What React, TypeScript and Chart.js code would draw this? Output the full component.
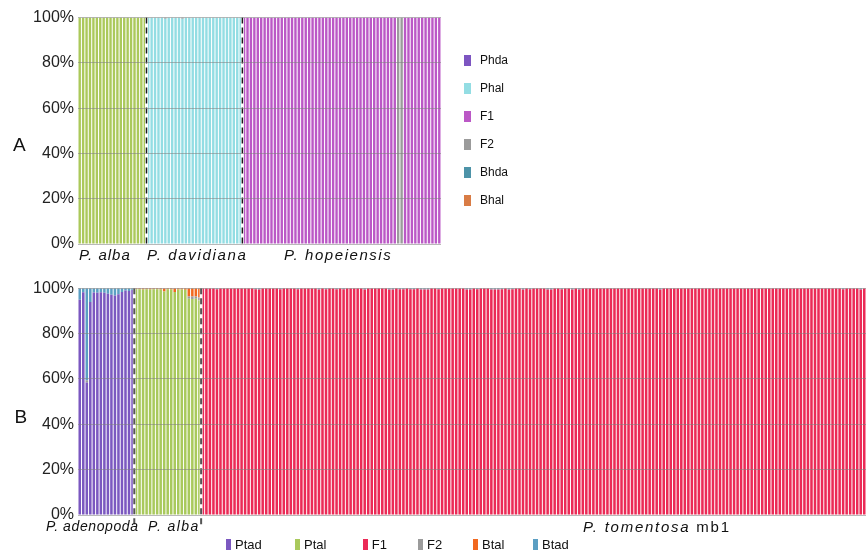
import React, { useEffect, useRef } from "react";
import { Chart, registerables } from "chart.js";
Chart.register(...registerables);

const FONT = '"Liberation Sans", Arial, Helvetica, sans-serif';

// ---------- shared ----------
const Y_TICKS = ["0%", "20%", "40%", "60%", "80%", "100%"];

// ---------- Panel A ----------
const A_GROUPS = ["P. alba", "P. davidiana", "P. hopeiensis"];
const A_GROUP_SIZES = [20, 28, 58];

const A_ALBA_PAL = [
  100, 100, 100, 100, 100, 100, 100, 100, 100, 100,
  100, 100, 100, 100, 100, 100, 100, 100, 100, 100,
];
const A_DAV_PHAL = [
  100, 100, 100, 100, 100, 99.4, 100, 100, 100, 100,
  99.4, 100, 100, 100, 100, 100, 100, 100, 100, 100,
  100, 100, 100, 100, 100, 100, 100, 100,
];
const A_DAV_F2 = [
  0, 0, 0, 0, 0, 0.6, 0, 0, 0, 0,
  0.6, 0, 0, 0, 0, 0, 0, 0, 0, 0,
  0, 0, 0, 0, 0, 0, 0, 0,
];
const A_HOP_F1 = [
  100, 100, 100, 100, 100, 100, 100, 100, 100, 100,
  100, 100, 100, 100, 100, 100, 100, 100, 100, 100,
  100, 100, 100, 100, 100, 100, 100, 100, 100, 100,
  100, 100, 100, 100, 100, 100, 100, 100, 100, 100,
  100, 100, 100, 100, 100, 0, 0, 100, 100, 100,
  100, 100, 100, 100, 100, 100, 100, 100,
];
const A_HOP_F2 = [
  0, 0, 0, 0, 0, 0, 0, 0, 0, 0,
  0, 0, 0, 0, 0, 0, 0, 0, 0, 0,
  0, 0, 0, 0, 0, 0, 0, 0, 0, 0,
  0, 0, 0, 0, 0, 0, 0, 0, 0, 0,
  0, 0, 0, 0, 0, 100, 100, 0, 0, 0,
  0, 0, 0, 0, 0, 0, 0, 0,
];

const A_SERIES = [
  { label: "Pal", color: "#abc95b", groups: [A_ALBA_PAL, null, null], legend: false },
  { label: "Phda", color: "#7d55c1", groups: [null, null, null], legend: true },
  { label: "Phal", color: "#93dde3", groups: [null, A_DAV_PHAL, null], legend: true },
  { label: "F1", color: "#bb58c6", groups: [null, null, A_HOP_F1], legend: true },
  { label: "F2", color: "#9b9b9b", groups: [null, A_DAV_F2, A_HOP_F2], legend: true },
  { label: "Bhda", color: "#4d93a8", groups: [null, null, null], legend: true },
  { label: "Bhal", color: "#d97c45", groups: [null, null, null], legend: true },
];

// ---------- Panel B ----------
const B_GROUPS = ["P. adenopoda", "P. alba", "P. tomentosa mb1"];
const B_GROUP_SIZES = [16, 19, 189];

const B_ADEN_PTAD = [94.9, 98.3, 58.4, 94, 98.2, 98, 98.3, 98, 97.6, 97.2, 96.8, 97.4, 98.4, 99, 98.8, 99.2];
const B_ADEN_F2 = [0, 0, 1, 0, 0, 0, 0, 0, 0, 0, 0, 0, 0, 0, 0, 0];
const B_ADEN_BTAD = [5.1, 1.7, 40.6, 6, 1.8, 2, 1.7, 2, 2.4, 2.8, 3.2, 2.6, 1.6, 1, 1.2, 0.8];

const B_ALBA_PTAL = [99.6, 99.6, 99.5, 99.6, 99.5, 99.6, 99.6, 99.5, 98.6, 99.6, 99.5, 98.4, 99.5, 99.5, 99.4, 95.4, 95.3, 95.4, 94.6];
const B_ALBA_F2 = [0, 0, 0, 0, 0, 0, 0, 0, 0, 0, 0, 0, 0, 0, 0, 1.0, 1.1, 1.0, 1.3];
const B_ALBA_BTAL = [0.4, 0.4, 0.5, 0.4, 0.5, 0.4, 0.4, 0.5, 1.4, 0.4, 0.5, 1.6, 0.5, 0.5, 0.6, 3.6, 3.6, 3.6, 4.1];

const B_TOM_F1 = [
  100, 100, 100, 100, 99.6, 100, 100, 100, 100,
  100, 100, 100, 100, 100, 100, 99.6, 99.5, 100, 100,
  100, 100, 100, 99.6, 100, 100, 100, 100, 99.6, 100,
  100, 100, 100, 100, 99.5, 100, 99.6, 100, 100, 99.6,
  100, 99.6, 100, 100, 100, 100, 100, 99.5, 100, 100,
  100, 100, 100, 100, 99.5, 99.5, 100, 99.6, 99.6, 100,
  99.6, 99.6, 100, 99.5, 99.5, 99.5, 100, 100, 99.6, 100,
  100, 100, 100, 100, 100, 100, 99.5, 99.5, 100, 99.6,
  100, 100, 100, 99.5, 99.5, 99.5, 99.6, 100, 99.5, 99.6,
  100, 100, 99.5, 100, 99.6, 100, 100, 100, 100, 99.5,
  99.5, 100, 100, 99.6, 100, 100, 99.5, 100, 99.5, 100,
  100, 100, 100, 100, 100, 100, 100, 100, 100, 100,
  100, 100, 100, 100, 100, 100, 100, 100, 100, 100,
  100, 99.5, 100, 100, 100, 100, 100, 100, 100, 100,
  100, 100, 100, 100, 100, 100, 100, 100, 100, 100,
  100, 100, 100, 100, 100, 100, 100, 100, 100, 100,
  100, 100, 100, 100, 100, 100, 100, 100, 100, 100,
  100, 100, 100, 100, 100, 100, 100, 100, 100, 100,
  100, 100, 100, 99.6, 100, 100, 100, 100, 99.5, 100,
];
const B_TOM_BTAD = [
  0, 0, 0, 0, 0.4, 0, 0, 0, 0,
  0, 0, 0, 0, 0, 0, 0.4, 0.5, 0, 0,
  0, 0, 0, 0.4, 0, 0, 0, 0, 0.4, 0,
  0, 0, 0, 0, 0.5, 0, 0.4, 0, 0, 0.4,
  0, 0.4, 0, 0, 0, 0, 0, 0.5, 0, 0,
  0, 0, 0, 0, 0.5, 0.5, 0, 0.4, 0.4, 0,
  0.4, 0.4, 0, 0.5, 0.5, 0.5, 0, 0, 0.4, 0,
  0, 0, 0, 0, 0, 0, 0.5, 0.5, 0, 0.4,
  0, 0, 0, 0.5, 0.5, 0.5, 0.4, 0, 0.5, 0.4,
  0, 0, 0.5, 0, 0.4, 0, 0, 0, 0, 0.5,
  0.5, 0, 0, 0.4, 0, 0, 0.5, 0, 0.5, 0,
  0, 0, 0, 0, 0, 0, 0, 0, 0, 0,
  0, 0, 0, 0, 0, 0, 0, 0, 0, 0,
  0, 0.5, 0, 0, 0, 0, 0, 0, 0, 0,
  0, 0, 0, 0, 0, 0, 0, 0, 0, 0,
  0, 0, 0, 0, 0, 0, 0, 0, 0, 0,
  0, 0, 0, 0, 0, 0, 0, 0, 0, 0,
  0, 0, 0, 0, 0, 0, 0, 0, 0, 0,
  0, 0, 0, 0.4, 0, 0, 0, 0, 0.5, 0,
];

const B_SERIES = [
  { label: "Ptad", color: "#7b58c0", groups: [B_ADEN_PTAD, null, null], legend: true },
  { label: "Ptal", color: "#a9c95c", groups: [null, B_ALBA_PTAL, null], legend: true },
  { label: "F1", color: "#eb2a56", groups: [null, null, B_TOM_F1], legend: true },
  { label: "F2", color: "#9b9b9b", groups: [B_ADEN_F2, B_ALBA_F2, null], legend: true },
  { label: "Btal", color: "#f2681f", groups: [null, B_ALBA_BTAL, null], legend: true },
  { label: "Btad", color: "#5b9fc3", groups: [B_ADEN_BTAD, null, B_TOM_BTAD], legend: true },
];

// ---------- helpers ----------
type Series = { label: string; color: string; groups: (number[] | null)[]; legend: boolean };

function buildLabels(groups: string[], sizes: number[]) {
  const out: string[] = [];
  groups.forEach((g, gi) => {
    for (let i = 0; i < sizes[gi]; i++) out.push(`${g} #${i + 1}`);
  });
  return out;
}

function buildData(s: Series, sizes: number[]) {
  const out: number[] = [];
  s.groups.forEach((g, gi) => {
    if (g) out.push(...g);
    else for (let i = 0; i < sizes[gi]; i++) out.push(0);
  });
  return out;
}

function separatorPlugin(sizes: number[], color: string, lw: number, extra: number) {
  return {
    id: "groupSeparators",
    afterDatasetsDraw(chart: any) {
      const xs = chart.scales.x;
      const { top, bottom } = chart.chartArea;
      const ctx = chart.ctx as CanvasRenderingContext2D;
      let idx = 0;
      ctx.save();
      for (let i = 0; i < sizes.length - 1; i++) {
        idx += sizes[i];
        const px = (xs.getPixelForValue(idx - 1) + xs.getPixelForValue(idx)) / 2;
        ctx.setLineDash([]);
        ctx.strokeStyle = "#ffffff";
        ctx.lineWidth = 3;
        ctx.beginPath();
        ctx.moveTo(px, top);
        ctx.lineTo(px, bottom);
        ctx.stroke();
        ctx.setLineDash([6, 4]);
        ctx.strokeStyle = color;
        ctx.lineWidth = lw;
        ctx.beginPath();
        ctx.moveTo(px, top);
        ctx.lineTo(px, bottom + extra);
        ctx.stroke();
      }
      ctx.restore();
    },
  };
}

function makeConfig(
  series: Series[],
  groups: string[],
  sizes: number[],
  padding: { top: number; right: number; bottom: number; left: number },
  barPct: number,
  sep: any
) {
  return {
    type: "bar" as const,
    data: {
      labels: buildLabels(groups, sizes),
      datasets: series.map((s) => ({
        label: s.label,
        data: buildData(s, sizes),
        backgroundColor: s.color,
        borderWidth: 0,
        barPercentage: barPct,
        categoryPercentage: 1,
      })),
    },
    options: {
      responsive: false,
      maintainAspectRatio: false,
      animation: false as const,
      layout: { padding },
      plugins: { legend: { display: false }, tooltip: { enabled: false } },
      scales: {
        x: { display: false, stacked: true },
        y: {
          stacked: true,
          min: 0,
          max: 100,
          afterFit: (scale: any) => {
            scale.width = 78;
          },
          border: { display: false },
          grid: { color: "rgba(128,128,128,0.55)", lineWidth: 1, drawTicks: false, z: 1 },
          ticks: {
            stepSize: 20,
            padding: 4,
            color: "#222",
            font: { family: FONT, size: 16 },
            callback: (_v: any, i: number) => Y_TICKS[i],
          },
        },
      },
    },
    plugins: [sep],
  };
}

function ChartCanvas({ config, width, height, top }: { config: any; width: number; height: number; top: number }) {
  const ref = useRef<HTMLCanvasElement | null>(null);
  useEffect(() => {
    if (!ref.current) return;
    const chart = new Chart(ref.current, config);
    return () => chart.destroy();
  }, []);
  return (
    <canvas
      ref={ref}
      width={width}
      height={height}
      style={{ position: "absolute", left: 0, top, width, height }}
    />
  );
}

const labelStyle = (left: number, top: number, size: number, spacing = 0): React.CSSProperties => ({
  position: "absolute",
  left,
  top,
  fontSize: size,
  lineHeight: 1,
  letterSpacing: spacing,
  whiteSpace: "nowrap",
  color: "#111",
  fontFamily: FONT,
});

export default function App() {
  const configA = makeConfig(
    A_SERIES,
    A_GROUPS,
    A_GROUP_SIZES,
    { top: 17.5, right: 427, bottom: 26, left: 0 },
    0.7,
    separatorPlugin(A_GROUP_SIZES, "#1a1a1a", 1.5, 2)
  );
  const configB = makeConfig(
    B_SERIES,
    B_GROUPS,
    B_GROUP_SIZES,
    { top: 18.3, right: 2, bottom: 36, left: 0 },
    0.72,
    separatorPlugin(B_GROUP_SIZES, "#555555", 2, 12)
  );

  const aLabelPos = [
    { left: 79, top: 247.3, sp: 1 },
    { left: 147, top: 247.3, sp: 1.65 },
    { left: 284, top: 247.3, sp: 1.55 },
  ];
  const aLegendTop = [60, 88, 116, 144, 172, 200];
  const bLegendX = [226, 295, 362.7, 418, 473, 533];

  const aLegend = A_SERIES.filter((s) => s.legend);

  return (
    <div
      style={{
        position: "fixed",
        left: 0,
        top: 0,
        width: 868,
        height: 551,
        background: "#fff",
        fontFamily: FONT,
        overflow: "hidden",
      }}
    >
      <ChartCanvas config={configA} width={868} height={270} top={0} />
      <ChartCanvas config={configB} width={868} height={281} top={270} />

      <div style={labelStyle(13, 134.6, 19)}>A</div>
      <div style={labelStyle(14.5, 407.2, 19)}>B</div>

      {A_GROUPS.map((g, i) => (
        <div key={g} style={{ ...labelStyle(aLabelPos[i].left, aLabelPos[i].top, 15, aLabelPos[i].sp), fontStyle: "italic" }}>
          {g}
        </div>
      ))}

      <div style={{ ...labelStyle(46, 518.7, 14, 0.6), fontStyle: "italic" }}>{B_GROUPS[0]}</div>
      <div style={{ ...labelStyle(148, 518.7, 14, 1.4), fontStyle: "italic" }}>{B_GROUPS[1]}</div>
      <div style={labelStyle(583, 518.8, 15, 1.75)}>
        <span style={{ fontStyle: "italic" }}>{B_GROUPS[2].replace(" mb1", "")}</span> mb1
      </div>

      {aLegend.map((s, i) => (
        <React.Fragment key={s.label}>
          <div
            style={{
              position: "absolute",
              left: 464,
              top: aLegendTop[i] - 5.5,
              width: 7,
              height: 11,
              background: s.color,
            }}
          />
          <div style={labelStyle(480, aLegendTop[i] - 6.5, 12)}>{s.label}</div>
        </React.Fragment>
      ))}

      {B_SERIES.map((s, i) => (
        <React.Fragment key={s.label}>
          <div
            style={{
              position: "absolute",
              left: bLegendX[i],
              top: 538.5,
              width: 5,
              height: 11,
              background: s.color,
            }}
          />
          <div style={labelStyle(bLegendX[i] + 9, 537.5, 13)}>{s.label}</div>
        </React.Fragment>
      ))}
    </div>
  );
}
